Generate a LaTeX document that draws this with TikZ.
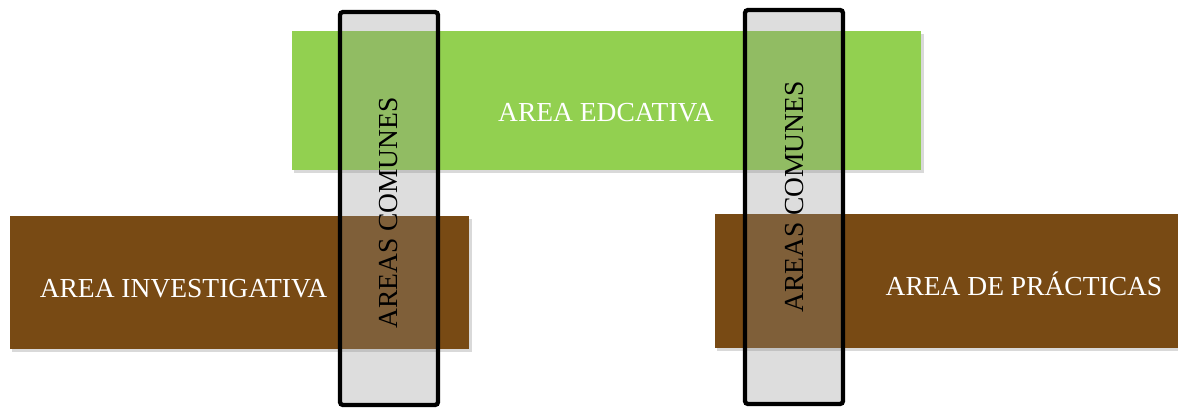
\documentclass[tikz,border=0pt]{standalone}
\usepackage{fontspec}
\setmainfont{Liberation Serif}
\definecolor{greenbox}{RGB}{146,208,80}
\definecolor{brownbox}{RGB}{120,74,20}
\definecolor{colgray}{RGB}{144,144,144}
\begin{document}
\begin{tikzpicture}[x=1pt,y=-1pt,
  area/.style={draw=none, inner sep=0pt, outer sep=0pt},
  lbl/.style={text=white, font=\fontsize{27.5}{31}\selectfont, inner sep=0pt},
  column/.style={draw=black, line width=4.3pt, rounded corners=3pt,
    fill=colgray, fill opacity=0.3, inner sep=0pt},
  vlbl/.style={text=black, font=\fontsize{27.5}{31}\selectfont, rotate=90, inner sep=0pt}]
\useasboundingbox (0,0) rectangle (1178,407);
% shadows
\fill[black, opacity=0.15] (294,34) rectangle (924,173);
\fill[black, opacity=0.15] (12,219) rectangle (472,352);
\fill[black, opacity=0.15] (717,217) rectangle (1178,351);
% boxes
\node[area, fill=greenbox, minimum width=629, minimum height=139] (edu) at (606.5,100.5) {};
\node[area, fill=brownbox, minimum width=459, minimum height=133] (inv) at (239.5,282.5) {};
\node[area, fill=brownbox, minimum width=463, minimum height=134] (pra) at (946.5,281) {};
% labels
\node[lbl] (tedu) at (606,113) {AREA EDCATIVA};
\node[lbl] (tinv) at (183.5,289) {AREA INVESTIGATIVA};
\node[lbl] (tpra) at (1024,284) {AREA DE PRÁCTICAS};
% common-area columns
\node[column, minimum width=98, minimum height=393] (colL) at (389,208.5) {};
\node[column, minimum width=98, minimum height=394] (colR) at (794,207) {};
\node[vlbl] (tcolL) at (389,213) {AREAS COMUNES};
\node[vlbl] (tcolR) at (795,197) {AREAS COMUNES};
\end{tikzpicture}
\end{document}
